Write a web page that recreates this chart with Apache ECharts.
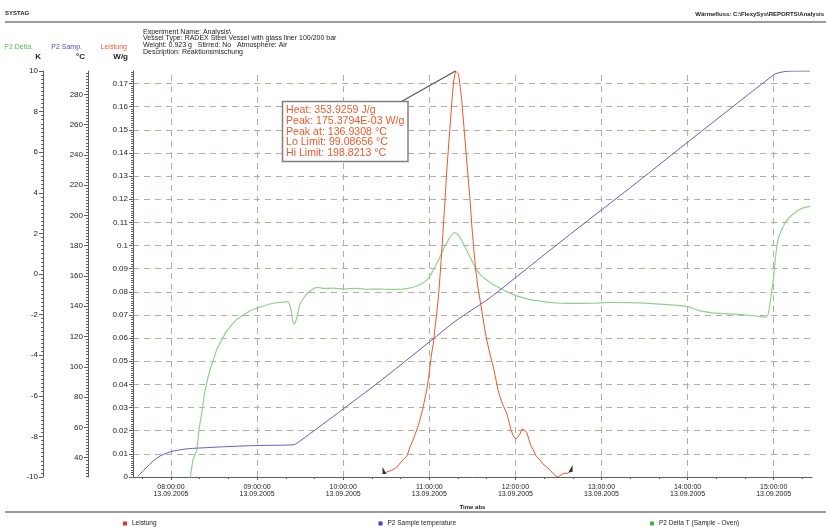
<!DOCTYPE html>
<html><head><meta charset="utf-8">
<script src="https://cdn.jsdelivr.net/npm/echarts@6/dist/echarts.min.js"></script>
<style>html,body{margin:0;padding:0;background:#fff}#c{width:826px;height:527px}</style>
</head><body><div id="c"></div>
<script>
// ---------- data ----------
const dateLabel = '13.09.2005';
const hourTicks = [8, 9, 10, 11, 12, 13, 14, 15];
const tempLabels = [40, 60, 80, 100, 120, 140, 160, 180, 200, 220, 240, 260, 280];
const X_MIN = 7.5587, X_MAX = 15.4448;      // time axis extent (hours)
const W_MAX = 0.1753794;                    // W/g axis max (peak)
const C_MIN = 27.25, C_MAX = 295.4;         // °C axis extent
const K_MIN = -10, K_MAX = 10;

const leistungTime = ['10:27:44','10:30:32','10:33:19','10:36:07','10:38:12','10:40:17','10:42:23','10:44:28','10:46:34','10:48:39','10:51:14','10:52:50','10:54:43','10:56:19','10:58:12','10:59:48','11:01:11','11:02:48','11:03:59','11:05:23','11:06:46','11:08:10','11:09:34','11:10:57','11:12:20','11:13:44','11:14:26','11:15:50','11:16:52','11:18:16','11:19:19','11:20:22','11:21:24','11:22:35','11:24:11','11:26:04','11:27:20','11:28:22','11:29:46','11:31:10','11:32:13','11:33:57','11:35:20','11:36:44','11:38:08','11:40:01','11:41:37','11:43:01','11:44:37','11:46:29','11:47:53','11:49:17','11:51:22','11:53:57','11:55:33','11:56:57','11:58:33','12:00:26','12:01:49','12:03:13','12:04:37','12:06:01','12:07:53','12:09:29','12:10:53','12:12:29','12:14:22','12:15:46','12:17:10','12:19:15','12:21:50','12:24:08','12:26:13','12:28:19','12:29:55','12:31:47','12:33:53','12:35:58','12:38:04','12:39:28'];
const leistungValue = [0.0015,0.0022,0.0028,0.0037,0.0048,0.0065,0.0078,0.0091,0.0130,0.0160,0.0203,0.0233,0.0276,0.0320,0.0376,0.0441,0.0514,0.0579,0.0644,0.0717,0.0808,0.0929,0.1058,0.1197,0.1335,0.1456,0.1512,0.1629,0.1706,0.17538,0.1748,0.1741,0.1693,0.1629,0.1508,0.1369,0.1274,0.1197,0.1076,0.0972,0.0903,0.0816,0.0765,0.0713,0.0657,0.0592,0.0549,0.0514,0.0475,0.0419,0.0376,0.0346,0.0311,0.0276,0.0238,0.0203,0.0177,0.0164,0.0168,0.0186,0.0207,0.0203,0.0194,0.0160,0.0134,0.0117,0.0091,0.0082,0.0073,0.0056,0.0043,0.0030,0.0015,0.0004,0.0000,0.0009,0.0017,0.0015,0.0022,0.0024];

const tempTime = ['07:37:00','07:42:36','07:47:30','07:52:20','07:59:18','08:09:45','08:20:12','08:41:06','09:02:00','09:25:00','09:29:54','10:11:42','10:25:40','11:00:30','11:18:36','11:40:12','11:49:18','12:31:06','13:26:48','13:54:42','14:57:24','15:02:18','15:11:18','15:25:18'];
const tempValue = [27.9,33.2,37.8,41.1,43.8,45.7,46.4,47.4,48.1,48.5,51.0,80.5,90.5,116.8,130.5,144.2,150.8,182.3,223.4,244.4,291.0,293.9,295.3,295.4];

const deltaTime = ['08:13:14','08:15:20','08:17:55','08:19:31','08:21:24','08:23:00','08:24:53','08:27:11','08:29:29','08:32:04','08:35:20','08:38:20','08:41:07','08:45:18','08:50:23','08:55:03','08:59:43','09:05:31','09:11:17','09:15:58','09:20:38','09:22:14','09:23:38','09:25:14','09:26:25','09:27:36','09:28:51','09:29:54','09:31:59','09:34:34','09:36:52','09:41:32','09:47:19','09:53:07','10:01:16','10:08:14','10:16:23','10:25:39','10:32:37','10:39:35','10:45:10','10:51:14','10:54:55','10:58:12','11:00:30','11:02:48','11:05:23','11:07:28','11:09:55','11:12:08','11:14:26','11:16:44','11:18:16','11:20:13','11:22:06','11:23:42','11:25:56','11:28:22','11:30:28','11:33:02','11:36:02','11:40:01','11:44:24','11:49:17','11:56:15','12:03:13','12:10:11','12:17:10','12:24:08','12:31:05','12:41:33','12:54:18','13:05:56','13:17:35','13:30:20','13:40:47','13:51:14','14:00:31','14:04:29','14:08:40','14:15:38','14:22:36','14:33:03','14:41:12','14:47:41','14:53:58','14:55:21','14:56:16','14:57:26','14:58:29','14:59:45','15:00:56','15:02:07','15:03:43','15:05:36','15:07:54','15:11:23','15:14:52','15:18:21','15:21:50','15:24:08','15:25:19'];
const deltaValue = [-10.15,-9.16,-8.67,-7.68,-6.85,-6.06,-5.37,-4.73,-4.24,-3.69,-3.25,-2.86,-2.61,-2.27,-2.02,-1.82,-1.69,-1.55,-1.44,-1.40,-1.36,-1.43,-1.77,-2.46,-2.41,-2.17,-1.77,-1.48,-1.23,-0.99,-0.84,-0.66,-0.71,-0.70,-0.74,-0.71,-0.75,-0.74,-0.76,-0.75,-0.71,-0.59,-0.47,-0.30,-0.10,0.20,0.54,0.85,1.23,1.52,1.82,2.00,2.04,1.92,1.72,1.51,1.18,0.85,0.54,0.20,-0.07,-0.30,-0.52,-0.70,-0.94,-1.13,-1.26,-1.33,-1.40,-1.44,-1.45,-1.44,-1.40,-1.41,-1.43,-1.48,-1.53,-1.61,-1.72,-1.82,-1.90,-1.94,-1.98,-2.02,-2.07,-2.13,-2.09,-1.94,-1.43,-0.89,-0.30,0.59,1.33,1.87,2.17,2.51,2.82,3.03,3.19,3.28,3.32,3.33];

const headerLines = ['Experiment Name: Analysis\\','Vessel Type: RADEX Steel Vessel with glass liner 100/200 bar','Weight: 0.923 g   Stirred: No   Atmosphere: Air','Description: Reaktionsmischung'];
const annotationLines = ['Heat: 353.9259 J/g','Peak: 175.3794E-03 W/g','Peak at: 136.9308 °C','Lo Limit: 99.08656 °C','Hi Limit: 198.8213 °C'];

// ---------- helpers ----------
const toH = s => { const p = s.split(':').map(Number); return p[0] + p[1] / 60 + (p[2] || 0) / 3600; };
const pair = (ts, vs) => ts.map((t, i) => [toH(t), vs[i]]);
const pad = n => String(n).padStart(2, '0');
const range = (a, b, s) => { const r = []; for (let i = 0; a + i * s <= b + 1e-9; i++) r.push(+(a + i * s).toFixed(6)); return r; };

const F = '"Liberation Sans", Arial, sans-serif';
const AX = '#5e5e5e', TXT = '#1c1c1c', GRID = '#b8aba3';
const RED = '#f0582c', PURPLE = '#6a5cc6', GREEN = '#92d092';
const splitColors = range(0, 0.17, 0.01).map(() => GRID).concat(['rgba(0,0,0,0)']);

const chart = echarts.init(document.getElementById('c'), null, { renderer: 'canvas' });

const nameStyle = (top, topColor, padTop, padBottom) => ({
  align: 'right', verticalAlign: 'bottom',
  rich: {
    a: { color: topColor, fontSize: 7, fontFamily: F, lineHeight: 10, padding: [0, padTop, 0, 0] },
    b: { color: TXT, fontSize: 8, fontWeight: 'bold', fontFamily: F, lineHeight: 10, padding: [0, padBottom, 0, 0] }
  }
});

const legendBase = { icon: 'rect', itemWidth: 4, itemHeight: 4, top: 515, textStyle: { fontSize: 6.5, color: TXT, fontFamily: F } };

chart.setOption({
  animation: false,
  backgroundColor: '#fff',
  textStyle: { fontFamily: F },
  grid: { left: 133, right: 14, top: 71, bottom: 50 },
  legend: [
    Object.assign({ data: ['Leistung'], left: 118 }, legendBase),
    Object.assign({ data: ['P2 Sample temperature'], left: 373.5 }, legendBase),
    Object.assign({ data: ['P2 Delta T (Sample - Oven)'], left: 645 }, legendBase)
  ],
  xAxis: [
    {
      type: 'value', position: 'bottom', min: X_MIN, max: X_MAX,
      axisLine: { onZero: false, lineStyle: { color: AX } },
      axisTick: { customValues: hourTicks, length: 3, lineStyle: { color: AX } },
      axisLabel: { customValues: hourTicks, formatter: v => pad(Math.round(v)) + ':00:00\n' + dateLabel, fontSize: 7, lineHeight: 7.5, color: TXT, margin: 6 },
      splitLine: { show: false },
      name: 'Time abs', nameLocation: 'middle', nameGap: 27,
      nameTextStyle: { fontSize: 6, fontWeight: 'bold', color: TXT }
    },
    {
      type: 'value', position: 'bottom', offset: 0, min: X_MIN, max: X_MAX,
      axisLine: { show: false, onZero: false },
      axisTick: { customValues: range(7 + 40 / 60, 15 + 20 / 60, 1 / 3), length: 2, lineStyle: { color: AX } },
      axisLabel: { show: false }, splitLine: { show: false }
    }
  ],
  yAxis: [
    { // W/g
      type: 'value', position: 'left', offset: 0, min: 0, max: W_MAX, interval: 0.01,
      axisLine: { show: true, onZero: false, lineStyle: { color: AX } },
      axisTick: { show: true, length: 4, lineStyle: { color: AX } },
      axisLabel: { fontSize: 8, color: TXT, margin: 5, showMaxLabel: false },
      splitLine: { show: true, showMaxLine: false, lineStyle: { color: splitColors, type: [6, 5], width: 1 } },
      name: '{a|Leistung}\n{b|W/g}', nameLocation: 'end', nameGap: 9,
      nameTextStyle: nameStyle('Leistung', RED, 6, 5)
    },
    { // °C
      type: 'value', position: 'left', offset: 45, min: C_MIN, max: C_MAX,
      axisLine: { show: true, onZero: false, lineStyle: { color: AX } },
      axisTick: { show: true, customValues: tempLabels, length: 4, lineStyle: { color: AX } },
      axisLabel: { customValues: tempLabels, fontSize: 8, color: TXT, margin: 5 },
      splitLine: { show: false },
      name: '{a|P2 Samp.}\n{b|°C}', nameLocation: 'end', nameGap: 9,
      nameTextStyle: nameStyle('P2 Samp.', '#5548c8', 6, 3)
    },
    { // °C minor ticks
      type: 'value', position: 'left', offset: 45, min: C_MIN, max: C_MAX,
      axisLine: { show: false, onZero: false },
      axisTick: { show: true, customValues: range(28, 294, 2), length: 2, lineStyle: { color: AX } },
      axisLabel: { show: false }, splitLine: { show: false }
    },
    { // K
      type: 'value', position: 'left', offset: 90, min: K_MIN, max: K_MAX, interval: 2,
      axisLine: { show: true, onZero: false, lineStyle: { color: AX } },
      axisTick: { show: true, length: 4, lineStyle: { color: AX } },
      minorTick: { show: true, splitNumber: 10, length: 2, lineStyle: { color: AX } },
      axisLabel: { fontSize: 8, color: TXT, margin: 5 },
      splitLine: { show: false },
      name: '{a|P2 Delta.}\n{b|K}', nameLocation: 'end', nameGap: 9,
      nameTextStyle: nameStyle('P2 Delta.', '#4fbf5a', 10, 2)
    },
    { // W/g minor ticks
      type: 'value', position: 'left', offset: 0, min: 0, max: W_MAX,
      axisLine: { show: false, onZero: false },
      axisTick: { show: true, customValues: range(0, 0.175, 0.001), length: 2, lineStyle: { color: AX } },
      axisLabel: { show: false }, splitLine: { show: false }
    }
  ],
  series: [
    {
      name: 'hourGrid', type: 'line', data: [], xAxisIndex: 0, yAxisIndex: 0, silent: true,
      markLine: {
        silent: true, z: 1, symbol: 'none', label: { show: false },
        lineStyle: { color: GRID, type: [6, 5], width: 1 },
        data: hourTicks.map(h => ({ xAxis: h }))
      }
    },
    {
      name: 'P2 Delta T (Sample - Oven)', type: 'line', xAxisIndex: 0, yAxisIndex: 3, z: 3,
      data: pair(deltaTime, deltaValue), showSymbol: false, smooth: 0.2,
      lineStyle: { color: GREEN, width: 1.2 }, itemStyle: { color: '#3fb24a' }
    },
    {
      name: 'P2 Sample temperature', type: 'line', xAxisIndex: 0, yAxisIndex: 1, z: 3,
      data: pair(tempTime, tempValue), showSymbol: false, smooth: 0.3,
      lineStyle: { color: PURPLE, width: 1 }, itemStyle: { color: '#4a3cc0' }
    },
    {
      name: 'Leistung', type: 'line', xAxisIndex: 0, yAxisIndex: 0, z: 4,
      data: pair(leistungTime, leistungValue), showSymbol: false,
      lineStyle: { color: RED, width: 1 }, itemStyle: { color: '#e8321c' },
      markPoint: {
        silent: true, label: { show: false },
        data: [
          { coord: [toH(leistungTime[0]), leistungValue[0]], symbol: 'path://M0,0L0,10L6,10Z', symbolSize: [4, 7], symbolOffset: [1.5, -3], itemStyle: { color: '#333' } },
          { coord: [toH(leistungTime[leistungTime.length - 1]), leistungValue[leistungValue.length - 1]], symbol: 'path://M6,0L6,10L0,10Z', symbolSize: [4, 7], symbolOffset: [-1.5, -3], itemStyle: { color: '#333' } }
        ]
      }
    }
  ]
});

// ---------- decorations & annotation ----------
const peakIdx = leistungValue.indexOf(Math.max(...leistungValue));
const peakPx = chart.convertToPixel({ xAxisIndex: 0, yAxisIndex: 0 }, [toH(leistungTime[peakIdx]), leistungValue[peakIdx]]);

chart.setOption({
  graphic: [
    { type: 'text', left: 5, top: 10, style: { text: 'SYSTAG', fontSize: 6, fontWeight: 'bold', fontFamily: F, fill: TXT } },
    { type: 'text', right: 2, top: 11, style: { text: 'Wärmefluss: C:\\FlexySys\\REPORTS\\Analysis', fontSize: 6, fontWeight: 'bold', fontFamily: F, fill: TXT } },
    { type: 'line', shape: { x1: 5, y1: 22, x2: 826, y2: 22 }, style: { stroke: '#9c9c9c', lineWidth: 2 } },
    { type: 'line', shape: { x1: 5, y1: 512, x2: 826, y2: 512 }, style: { stroke: '#9c9c9c', lineWidth: 2 } },
    { type: 'text', x: 143, y: 28.5, style: { text: headerLines.join('\n'), fontSize: 7, lineHeight: 6.7, fontFamily: F, fill: TXT, verticalAlign: 'top' } },
    { type: 'line', z: 20, shape: { x1: 401.5, y1: 101.5, x2: peakPx[0], y2: peakPx[1] }, style: { stroke: '#555', lineWidth: 1.2 } },
    { type: 'rect', z: 20, shape: { x: 282.5, y: 101.5, width: 125.5, height: 60 }, style: { fill: '#fff', stroke: '#808080', lineWidth: 1.5 } },
    { type: 'text', z: 21, x: 286, y: 104.6, style: { text: annotationLines.join('\n'), fontSize: 10.6, lineHeight: 10.8, fontFamily: F, fill: '#ef5a2c', verticalAlign: 'top' } }
  ]
});
</script>
</body></html>
